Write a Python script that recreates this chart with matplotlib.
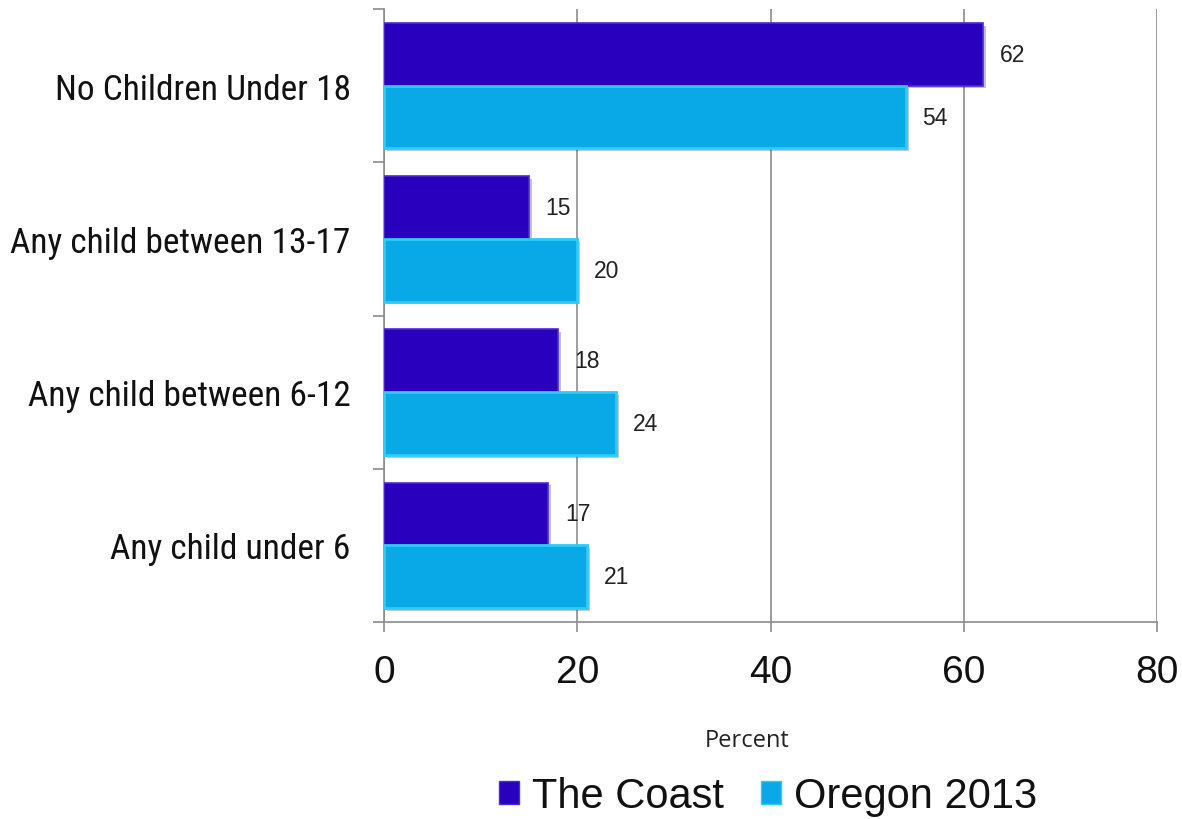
import matplotlib
matplotlib.use("Agg")
import matplotlib.pyplot as plt
from matplotlib import font_manager
from matplotlib.patches import Patch
import matplotlib.patheffects as pe
import numpy as np

# Household composition, percent of households
categories = ["No Children Under 18", "Any child between 13-17",
              "Any child between 6-12", "Any child under 6"]
series_names = ["The Coast", "Oregon 2013"]
coast = [62, 15, 18, 17]
oregon = [54, 20, 24, 21]
x_ticks = [0, 20, 40, 60, 80]
x_label = "Percent"

COAST_COLOR = "#2900BE"
COAST_EDGE = "#4A2BD6"
OREGON_COLOR = "#08A9E6"
OREGON_EDGE = "#2CCBF8"
GRID = "#8C8C8C"

available = {f.name for f in font_manager.fontManager.ttflist}
narrow = "Roboto Condensed" in available
label_family = ["Roboto Condensed", "Liberation Sans"] if narrow else ["Liberation Sans"]
label_size = 25.5 if narrow else 22

plt.rcParams["font.family"] = ["Liberation Sans", "DejaVu Sans"]

fig = plt.figure(figsize=(11.82, 8.2), dpi=100)
ax = fig.add_axes([384 / 1182, 1 - 623 / 820, (1157 - 384) / 1182, (623 - 10) / 820])

n = len(categories)
pos = np.arange(n)[::-1].astype(float)  # first category at the top
h = 0.41

shadow = [pe.SimplePatchShadow(offset=(2, -2), alpha=0.25), pe.Normal()]
b1 = ax.barh(pos + h / 2, coast, height=h, color=COAST_COLOR,
             edgecolor=COAST_EDGE, linewidth=1.2, zorder=3)
b2 = ax.barh(pos - h / 2, oregon, height=h, color=OREGON_COLOR,
             edgecolor=OREGON_EDGE, linewidth=2.0, zorder=3)
for bars in (b1, b2):
    for p in bars:
        p.set_path_effects(shadow)

for bars, vals in ((b1, coast), (b2, oregon)):
    for p, v in zip(bars, vals):
        ax.annotate(f"{v}", xy=(v, p.get_y() + p.get_height() / 2),
                    xytext=(12, 0), textcoords="offset points",
                    ha="left", va="center", fontsize=16.5, color="#222222",
                    zorder=5)

ax.set_xlim(0, 80)
ax.set_ylim(-0.5, n - 0.5)

ax.set_xticks(x_ticks)
ax.set_xticklabels([str(t) for t in x_ticks])
ax.tick_params(axis="x", length=7, width=1.2, color=GRID, pad=16,
               labelsize=28, labelcolor="#111111")
ax.xaxis.grid(True, color=GRID, linewidth=1.2, zorder=1)

ax.set_yticks(pos)
ax.set_yticklabels(categories)
for t in ax.get_yticklabels():
    t.set_fontfamily(label_family)
    t.set_fontsize(label_size)
    t.set_color("#111111")
ax.tick_params(axis="y", which="major", length=0, pad=24)
ax.set_yticks(np.arange(-0.5, n, 1.0), minor=True)
ax.tick_params(axis="y", which="minor", length=8, width=1.2, color=GRID)

for s in ("top", "right"):
    ax.spines[s].set_visible(False)
for s in ("left", "bottom"):
    ax.spines[s].set_color(GRID)
    ax.spines[s].set_linewidth(1.2)

fig.text(747 / 1182, 1 - 741 / 820, x_label, ha="center", va="center",
         fontsize=17, family=["Open Sans", "DejaVu Sans"], color="#222222")

handles = [Patch(facecolor=COAST_COLOR, edgecolor=COAST_EDGE),
           Patch(facecolor=OREGON_COLOR, edgecolor=OREGON_EDGE)]
fig.legend(handles, series_names, loc="center", ncol=2, frameon=False,
           bbox_to_anchor=(768 / 1182, 1 - 797 / 820), fontsize=30,
           handlelength=0.48, handleheight=0.48, handletextpad=0.3,
           columnspacing=0.9, labelcolor="#111111")

fig.savefig("out.png", dpi=100)
